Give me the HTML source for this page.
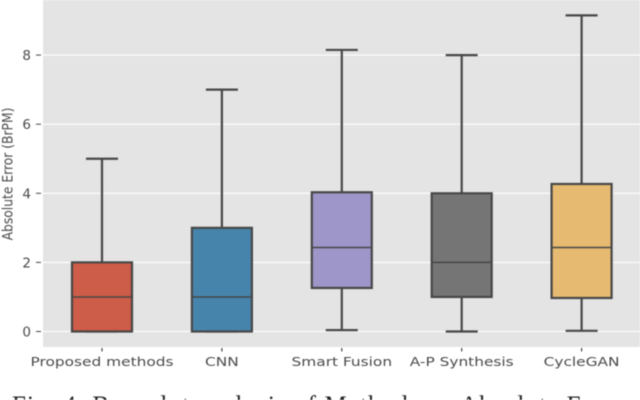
<!DOCTYPE html>
<html>
<head>
<meta charset="utf-8">
<style>
html,body{margin:0;padding:0;background:#fff;width:640px;height:400px;overflow:hidden}
svg{display:block;filter:blur(0.4px)}
text{font-family:"DejaVu Sans","Liberation Sans",sans-serif;fill:#4a4a4a}
</style>
</head>
<body>
<svg id="chart" width="640" height="400" viewBox="0 0 640 400" xmlns="http://www.w3.org/2000/svg"></svg>
<script>
const categories = ["Proposed methods", "CNN", "Smart Fusion", "A-P Synthesis", "CycleGAN"];
const whiskerLow = [0, 0, 0.04, 0, 0.02];
const quartile1 = [0, 0, 1.26, 1, 0.97];
const medians = [1, 1, 2.43, 2, 2.43];
const quartile3 = [2, 3, 4.03, 4, 4.27];
const whiskerHigh = [5, 7, 8.15, 8, 9.15];
const boxColors = ["#cd5c48", "#4684ac", "#9e95c8", "#757575", "#e6ba70"];
const yTicks = [0, 2, 4, 6, 8];

const svg = document.getElementById('chart');
const NS = 'http://www.w3.org/2000/svg';
const plotLeft = 43, plotRight = 640, plotTop = 0, plotBottom = 347;
const yScale = v => 331.5 - v * 34.55;
const xScale = i => 102 + i * 119.9;
const boxWidth = 60;
const dark = '#474747';

function make(tag, attrs, parent) {
  const el = document.createElementNS(NS, tag);
  for (const k in attrs) el.setAttribute(k, attrs[k]);
  (parent || svg).appendChild(el);
  return el;
}

const bg = make('rect', {x: plotLeft, y: plotTop, width: plotRight - plotLeft, height: plotBottom - plotTop, fill: '#e4e4e4'});



yTicks.forEach(t => {
  const y = yScale(t);
  const grid = make('line', {x1: plotLeft, x2: plotRight, y1: y, y2: y, stroke: '#fff', 'stroke-width': 1.1});
  
  
  const tick = make('line', {x1: 36, x2: 41, y1: y, y2: y, stroke: '#444', 'stroke-width': 1});
  
  
  const label = make('text', {x: 31, y: y + 5, 'text-anchor': 'end', 'font-size': 13.5});
  label.textContent = t;
  
  
});

categories.forEach((c, i) => {
  const x = xScale(i);
  const g = make('g', {});
  
  
  const sw = 2.2;
  make('line', {x1: x, x2: x, y1: yScale(whiskerHigh[i]), y2: yScale(quartile3[i]), stroke: dark, 'stroke-width': sw}, g);
  make('line', {x1: x, x2: x, y1: yScale(quartile1[i]), y2: yScale(whiskerLow[i]), stroke: dark, 'stroke-width': sw}, g);
  make('line', {x1: x - 16, x2: x + 16, y1: yScale(whiskerHigh[i]), y2: yScale(whiskerHigh[i]), stroke: dark, 'stroke-width': sw}, g);
  make('line', {x1: x - 16, x2: x + 16, y1: yScale(whiskerLow[i]), y2: yScale(whiskerLow[i]), stroke: dark, 'stroke-width': sw}, g);
  make('rect', {x: x - boxWidth / 2, y: yScale(quartile3[i]), width: boxWidth, height: yScale(quartile1[i]) - yScale(quartile3[i]), fill: boxColors[i], stroke: dark, 'stroke-width': sw}, g);
  make('line', {x1: x - boxWidth / 2, x2: x + boxWidth / 2, y1: yScale(medians[i]), y2: yScale(medians[i]), stroke: dark, 'stroke-width': 1.5}, g);

  const tick = make('line', {x1: x, x2: x, y1: 348, y2: 351.5, stroke: '#444', 'stroke-width': 1.2});
  
  
  const label = make('text', {transform: 'translate(' + x + ',366) scale(1.22,1)', 'text-anchor': 'middle', 'font-size': 12.6});
  label.textContent = c;
  
  
});

const yTitle = make('text', {transform: 'translate(12.5,174) rotate(-90) scale(0.85,1)', 'text-anchor': 'middle', 'font-size': 14.5});
yTitle.textContent = 'Absolute Error (BrPM)';



const caption = make('text', {x: 12, y: 413, 'font-size': 25, style: 'font-family:"Liberation Serif",serif;fill:#222;letter-spacing:1.1px'});
caption.textContent = 'Fig. 4: Box-plot analysis of Methods on Absolute Error';


</script>
</body>
</html>
